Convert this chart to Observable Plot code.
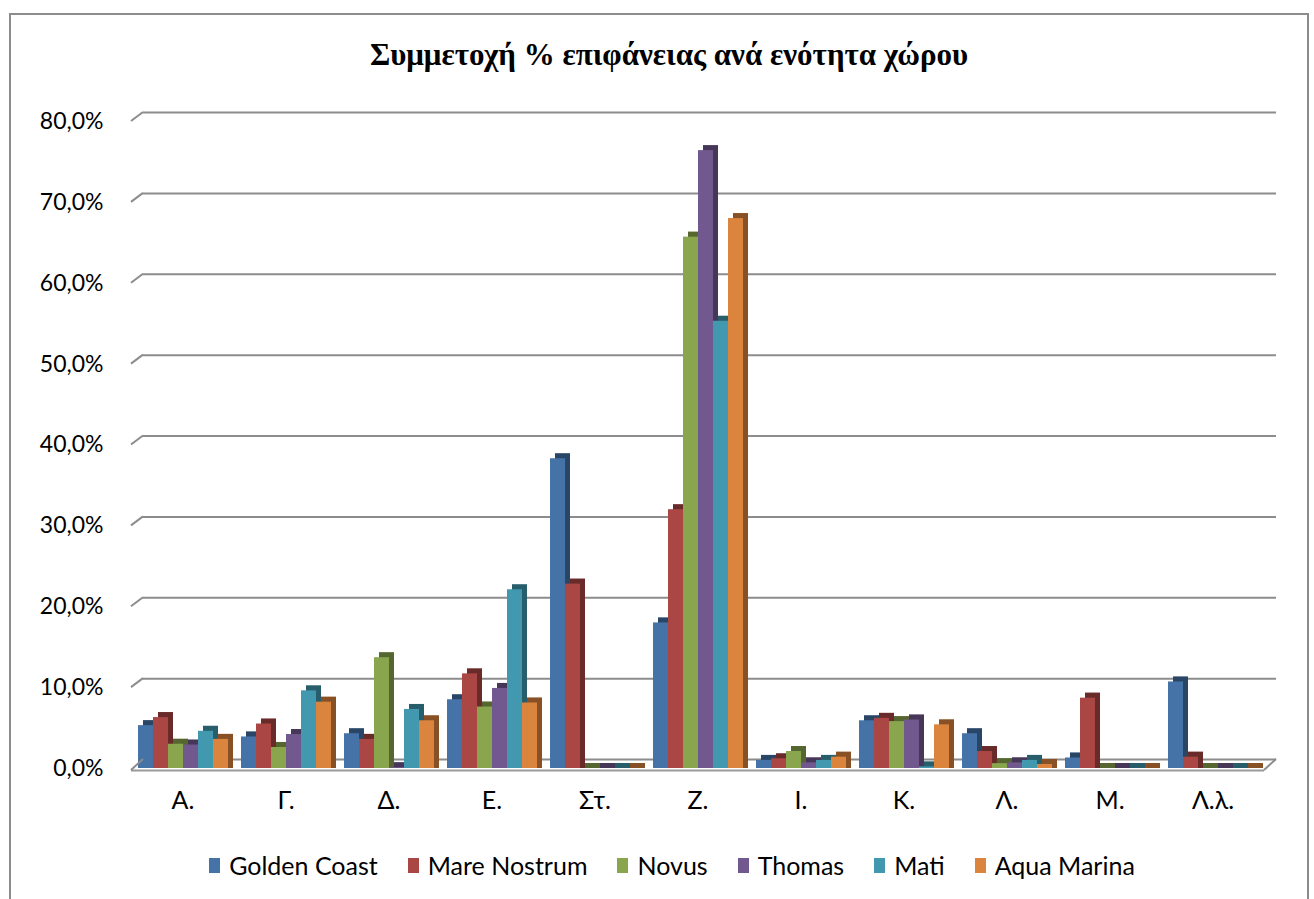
<!DOCTYPE html>
<html>
<head>
<meta charset="utf-8">
<script src="https://cdn.jsdelivr.net/npm/d3@7"></script>
<script src="https://cdn.jsdelivr.net/npm/@observablehq/plot@0.6"></script>
<style>
  html, body { margin: 0; padding: 0; background: #fff; }
  #wrap { position: relative; width: 1314px; height: 899px; overflow: hidden; font-family: Lato, "Open Sans", sans-serif; }
  #frame { position: absolute; left: 9px; top: 13px; width: 1300px; height: 900px; border: 2px solid #8c8c8c; box-sizing: border-box; }
  #title { position: absolute; top: 37px; left: 0; width: 1338px; text-align: center; font-family: "Liberation Serif", "Times New Roman", serif; font-weight: bold; font-size: 31px; color: #000; }
  #chart { position: absolute; left: 0; top: 90px; }
  #legend { position: absolute; top: 850px; left: 0; width: 1344px; display: flex; justify-content: center; gap: 30px; font-size: 25px; color: #000; }
  #legend .item { display: flex; align-items: center; gap: 9px; }
  #legend .sw { width: 11px; height: 15px; display: inline-block; }
  #chart svg text { font-size: 23px !important; }
  #chart svg [aria-label="fx-axis tick label"] text { font-size: 25px !important; }
</style>
</head>
<body>
<div id="wrap">
  <div id="frame"></div>
  <div id="title">Συμμετοχή % επιφάνειας ανά ενότητα χώρου</div>
  <div id="chart"></div>
  <div id="legend"></div>
</div>
<script>
const groups = ["Α.", "Γ.", "Δ.", "Ε.", "Στ.", "Ζ.", "Ι.", "Κ.", "Λ.", "Μ.", "Λ.λ."];
const series = ["Golden Coast", "Mare Nostrum", "Novus", "Thomas", "Mati", "Aqua Marina"];
const colors = ["#4572A7", "#AA4643", "#89A54E", "#71588F", "#4198AF", "#DB843D"];
const yTicks = [0, 10, 20, 30, 40, 50, 60, 70, 80];

const goldenCoast = [5.3, 3.9, 4.3, 8.5, 38.3, 18.0, 1.0, 5.9, 4.3, 1.3, 10.7];
const mareNostrum = [6.3, 5.5, 3.6, 11.7, 22.8, 32.0, 1.2, 6.2, 2.1, 8.7, 1.4];
const novus       = [3.0, 2.6, 13.7, 7.6, 0, 65.7, 2.1, 5.8, 0.6, 0, 0];
const thomas      = [2.9, 4.2, 0.1, 9.9, 0, 76.4, 0.7, 6.0, 0.7, 0, 0];
const mati        = [4.6, 9.6, 7.3, 22.1, 0, 55.3, 1.0, 0.2, 1.0, 0, 0];
const aquaMarina  = [3.6, 8.2, 5.9, 8.1, 0, 68.0, 1.4, 5.4, 0.5, 0, 0];

const valuesBySeries = [goldenCoast, mareNostrum, novus, thomas, mati, aquaMarina];
const data = [];
groups.forEach((g, gi) => series.forEach((s, si) => data.push({group: g, series: s, value: valuesBySeries[si][gi]})));

const fmt = d => d.toFixed(1).replace(".", ",") + "%";

const plot = Plot.plot({
  width: 1314,
  height: 728,
  marginLeft: 131,
  marginRight: 50,
  marginTop: 31,
  marginBottom: 50,
  style: {fontFamily: "Lato, 'Open Sans', sans-serif", fontSize: "23px", color: "#000", background: "transparent", overflow: "visible"},
  fx: {domain: groups, padding: 0, label: null, tickSize: 0, tickPadding: 23, axis: "bottom"},
  x: {domain: series, paddingInner: 0, paddingOuter: 0.35, axis: null},
  y: {domain: [0, 80], ticks: yTicks, tickFormat: fmt, tickSize: 0, tickPadding: 28, label: null},
  color: {domain: series, range: colors},
  marks: [
    Plot.ruleY(yTicks, {dx: 12, dy: -9, stroke: "#8c8c8c", strokeWidth: 2}),
    Plot.ruleY([0], {stroke: "#9a9a9a", strokeWidth: 2, dy: 2}),
    Plot.barY(data, {fx: "group", x: "series", y: "value", fill: "series", dx: 5, dy: -5, insetBottom: -5}),
    Plot.barY(data, {fx: "group", x: "series", y: "value", fill: "#000", fillOpacity: 0.38, dx: 5, dy: -5, insetBottom: -5}),
    Plot.barY(data, {fx: "group", x: "series", y: "value", fill: "series"})
  ]
});
document.getElementById("chart").appendChild(plot);

// slanted connectors of the back-wall gridlines and the floor's right edge
const ys = plot.scale("y");
const svg = d3.select(plot);
const g = svg.append("g").attr("stroke", "#8c8c8c").attr("stroke-width", 2);
g.selectAll("line.l").data(yTicks).join("line").attr("class", "l")
  .attr("x1", 131).attr("x2", 143)
  .attr("y1", d => ys.apply(d) + (d === 0 ? 2 : 0)).attr("y2", d => ys.apply(d) - 9);
g.append("line")
  .attr("x1", 1264).attr("x2", 1276)
  .attr("y1", ys.apply(0) + 2).attr("y2", ys.apply(0) - 9);

const legend = d3.select("#legend");
series.forEach((s, i) => {
  const it = legend.append("div").attr("class", "item");
  it.append("span").attr("class", "sw").style("background", colors[i]);
  it.append("span").text(s);
});
</script>
</body>
</html>
